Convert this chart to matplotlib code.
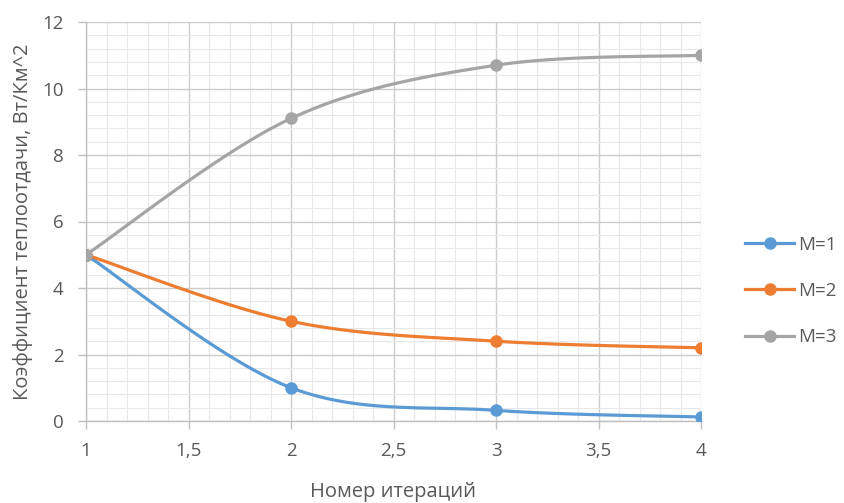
import numpy as np
import matplotlib
matplotlib.use("Agg")
import matplotlib.pyplot as plt
from matplotlib.ticker import MultipleLocator, FuncFormatter

plt.rcParams['font.family'] = ['Open Sans', 'DejaVu Sans']

iterations = [1, 2, 3, 4]
m1 = [5.0, 1.0, 0.32, 0.12]
m2 = [5.0, 3.0, 2.4, 2.2]
m3 = [5.0, 9.1, 10.7, 11.0]
series_names = ["M=1", "M=2", "M=3"]
colors = ["#5B9BD5", "#ED7D31", "#A5A5A5"]

x_label = "Номер итераций"
y_label = "Коэффициент теплоотдачи, Вт/Км^2"


def smooth(xs, ys, n=40):
    """Catmull-Rom style Bezier smoothing through the points."""
    xs = np.asarray(xs, float)
    ys = np.asarray(ys, float)
    px = np.concatenate([[xs[0]], xs, [xs[-1]]])
    py = np.concatenate([[ys[0]], ys, [ys[-1]]])
    out_x, out_y = [], []
    t = np.linspace(0, 1, n)
    for i in range(1, len(px) - 2):
        p0 = np.array([px[i], py[i]])
        p3 = np.array([px[i + 1], py[i + 1]])
        c1 = p0 + (np.array([px[i + 1], py[i + 1]]) - np.array([px[i - 1], py[i - 1]])) / 6
        c2 = p3 - (np.array([px[i + 2], py[i + 2]]) - np.array([px[i], py[i]])) / 6
        b = ((1 - t) ** 3)[:, None] * p0 + (3 * (1 - t) ** 2 * t)[:, None] * c1 \
            + (3 * (1 - t) * t ** 2)[:, None] * c2 + (t ** 3)[:, None] * p3
        out_x.extend(b[:, 0])
        out_y.extend(b[:, 1])
    return np.array(out_x), np.array(out_y)


fig = plt.figure(figsize=(8.44, 5.03), dpi=100)
ax = fig.add_axes([86 / 844, 1 - 421 / 503, (701 - 86) / 844, (421 - 22) / 503])

for ys, name, c in zip([m1, m2, m3], series_names, colors):
    sx, sy = smooth(iterations, ys)
    ax.plot(sx, sy, color=c, lw=2.3, solid_capstyle='round', zorder=3)
    ax.plot(iterations, ys, 'o', color=c, ms=8, zorder=4)
    ax.plot([], [], color=c, lw=2.3, marker='o', ms=8, label=name)

ax.set_xlim(1, 4)
ax.set_ylim(0, 12)
ax.xaxis.set_major_locator(MultipleLocator(0.5))
ax.xaxis.set_minor_locator(MultipleLocator(0.1))
ax.yaxis.set_major_locator(MultipleLocator(2))
ax.yaxis.set_minor_locator(MultipleLocator(0.4))
ax.xaxis.set_major_formatter(FuncFormatter(lambda v, p: f"{v:g}".replace('.', ',')))
ax.yaxis.set_major_formatter(FuncFormatter(lambda v, p: f"{v:g}"))

ax.grid(which='major', color='#CCCCCC', lw=1.0)
ax.grid(which='minor', color='#E8E8E8', lw=0.8)
ax.set_axisbelow(True)

for s in ['top', 'right']:
    ax.spines[s].set_visible(False)
for s in ['left', 'bottom']:
    ax.spines[s].set_color('#BFBFBF')
    ax.spines[s].set_linewidth(1.0)

ax.tick_params(which='major', length=6, width=1.0, color='#BFBFBF',
               labelcolor='#595959', labelsize=13.5)
ax.tick_params(axis='x', which='major', pad=9)
ax.tick_params(axis='y', which='major', pad=10)
ax.tick_params(which='minor', length=0)

ax.set_xlabel(x_label, color='#595959', fontsize=14.5, labelpad=16)
ax.set_ylabel(y_label, color='#595959', fontsize=14.5, labelpad=7)

leg = fig.legend(loc='center left', bbox_to_anchor=(736 / 844, 1 - 291 / 503),
                 frameon=False, fontsize=13.5, labelspacing=1.5,
                 handlelength=2.6, handletextpad=0.2, borderpad=0)
for t in leg.get_texts():
    t.set_color('#595959')

fig.savefig("out.png", dpi=100)
